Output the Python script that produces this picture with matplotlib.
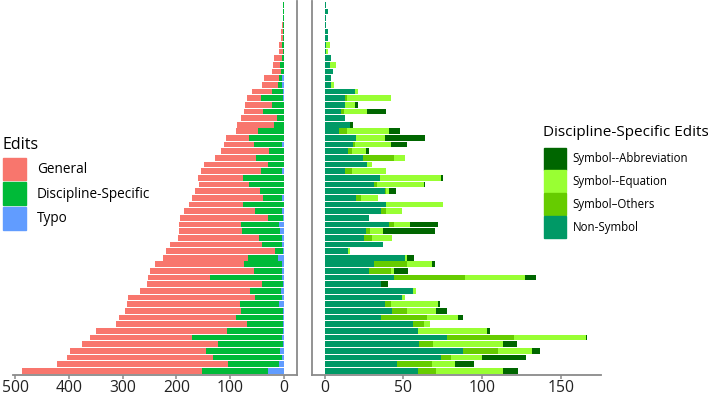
import matplotlib
matplotlib.use("Agg")
import matplotlib.pyplot as plt
from matplotlib.patches import Patch
import numpy as np

plt.rcParams['font.family'] = ['Open Sans', 'DejaVu Sans']

# one row per document, top to bottom
general = [0, 0, 1, 3, 3, 3, 5, 6, 14, 13, 17, 28, 30, 37, 26, 51, 35, 67, 68, 40,
           43, 55, 89, 76, 118, 111, 84, 94, 121, 132, 101, 132, 164, 114, 117, 151, 171, 202, 157, 166,
           193, 114, 214, 204, 235, 210, 217, 217, 245, 243, 190, 253, 253, 272, 318, 334]
typo = [0, 0, 0, 0, 0, 0, 0, 0, 0, 0, 0, 4, 4, 1, 1, 0, 0, 0, 0, 0,
        0, 4, 0, 0, 0, 4, 0, 0, 0, 4, 0, 4, 1, 8, 7, 3, 3, 1, 10, 3,
        3, 4, 1, 5, 3, 8, 1, 1, 1, 1, 3, 1, 7, 3, 9, 30]
non_symbol = [1, 2, 1, 1, 2, 2, 1, 1, 4, 3, 5, 4, 4, 19, 13, 13, 10, 13, 16, 9,
              20, 18, 15, 24, 27, 13, 35, 31, 38, 20, 39, 36, 28, 41, 26, 25, 37, 15, 51, 31,
              28, 44, 36, 56, 49, 38, 43, 36, 56, 59, 78, 60, 88, 74, 46, 59]
sym_others = [0, 0, 0, 0, 0, 0, 0, 0, 0, 0, 0, 0, 0, 0, 1, 0, 2, 0, 0, 5,
              0, 1, 2, 20, 0, 4, 0, 2, 1, 3, 0, 3, 0, 3, 3, 5, 0, 0, 0, 21,
              14, 45, 0, 0, 0, 4, 9, 29, 7, 0, 42, 9, 22, 6, 22, 12]
sym_equation = [0, 0, 0, 0, 0, 0, 2, 1, 0, 4, 0, 0, 2, 2, 28, 6, 15, 0, 0, 27,
                18, 23, 9, 7, 3, 22, 39, 30, 2, 11, 36, 10, 0, 10, 8, 13, 0, 1, 1, 16,
                2, 38, 0, 2, 2, 30, 19, 20, 4, 44, 46, 44, 22, 20, 15, 42]
sym_abbrev = [0, 0, 0, 0, 0, 0, 0, 0, 0, 0, 0, 0, 0, 0, 0, 2, 12, 0, 2, 7,
              26, 10, 2, 0, 0, 0, 1, 1, 4, 0, 0, 0, 0, 18, 33, 0, 0, 0, 5, 2,
              9, 7, 4, 0, 0, 1, 7, 3, 0, 2, 1, 9, 5, 28, 12, 10]

edit_labels = ['General', 'Discipline-Specific', 'Typo']
edit_colors = ['#F8766D', '#00BA38', '#619CFF']
ds_labels = ['Symbol--Abbreviation', 'Symbol--Equation', 'Symbol\u2013Others', 'Non-Symbol']
ds_colors = ['#006600', '#99FF33', '#66CC00', '#009966']

g = np.array(general)
t = np.array(typo)
ns = np.array(non_symbol)
so = np.array(sym_others)
se = np.array(sym_equation)
sa = np.array(sym_abbrev)
ds = ns + so + se + sa
y = np.arange(len(g))
h = 0.86
axcol = '#8a8a8a'

fig = plt.figure(figsize=(7.08, 3.98), dpi=100)

ax1 = fig.add_axes([0.0184, 0.0585, 0.401, 0.939])
ax1.barh(y, t, height=h, color=edit_colors[2])
ax1.barh(y, ds, left=t, height=h, color=edit_colors[1])
ax1.barh(y, g, left=t + ds, height=h, color=edit_colors[0])
ax1.set_xlim(504, -24.7)
ax1.set_ylim(len(g) - 0.4, -0.6)
ax1.set_xticks([0, 100, 200, 300, 400, 500])
for s in ['left', 'top']:
    ax1.spines[s].set_visible(False)

ax2 = fig.add_axes([0.4403, 0.0585, 0.408, 0.939])
left = np.zeros(len(y))
for vals, c in zip([ns, so, se, sa], ds_colors[::-1]):
    ax2.barh(y, vals, left=left, height=h, color=c)
    left = left + vals
ax2.set_xlim(-8.35, 175.4)
ax2.set_ylim(len(g) - 0.4, -0.6)
ax2.set_xticks([0, 50, 100, 150])
for s in ['right', 'top']:
    ax2.spines[s].set_visible(False)

for ax in (ax1, ax2):
    ax.set_yticks([])
    for s in ax.spines.values():
        s.set_color(axcol)
        s.set_linewidth(1.3)
    ax.tick_params(axis='x', colors=axcol, length=2.6, width=1.1, pad=1.2,
                   labelsize=11.3, labelcolor='#222222')

# legends: titles as separate text so the gap can be matched
fig.text(3 / 708, 1 - 145 / 398, 'Edits', fontsize=11.5, va='center', ha='left')
h1 = [Patch(color=c) for c in edit_colors]
fig.legend(h1, edit_labels, loc='upper left', bbox_to_anchor=(2.5 / 708, 1 - 157.5 / 398),
           frameon=False, fontsize=9.8, handlelength=1.71, handleheight=2.22,
           labelspacing=0.12, handletextpad=0.8, borderpad=0, borderaxespad=0)

fig.text(543 / 708, 1 - 133 / 398, 'Discipline-Specific Edits', fontsize=11,
         va='center', ha='left')
h2 = [Patch(color=c) for c in ds_colors]
fig.legend(h2, ds_labels, loc='upper left', bbox_to_anchor=(544 / 708, 1 - 147.5 / 398),
           frameon=False, fontsize=8.3, handlelength=1.9, handleheight=2.56,
           labelspacing=0.08, handletextpad=0.6, borderpad=0, borderaxespad=0)

fig.savefig('out.png', dpi=100)
